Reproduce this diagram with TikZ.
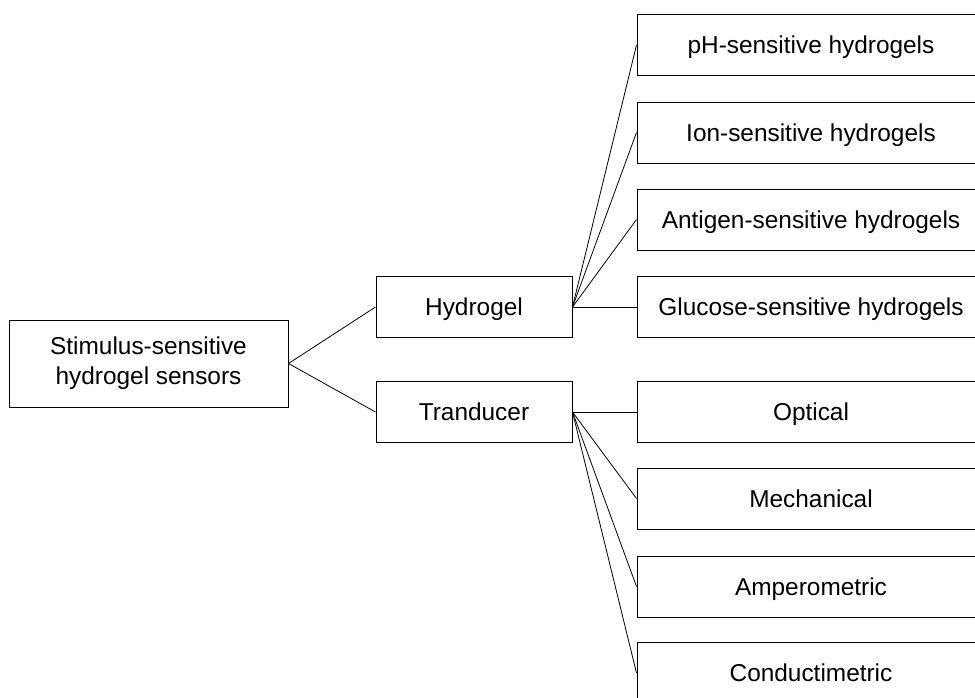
\documentclass[tikz,border=0pt]{standalone}
\usepackage{fontspec}
\setmainfont{Liberation Sans}
\usepackage{tikz}

\begin{document}
\begin{tikzpicture}[x=1pt,y=-1pt,
        box/.style={draw,rectangle,inner sep=0pt,line width=1pt,
            font=\fontsize{24.4}{30}\selectfont,align=center},
        midbox/.style={box,minimum width=196pt,minimum height=61pt,
            text height=17.5pt,text depth=0pt},
        leafbox/.style={box,minimum width=348pt,minimum height=61pt,
            text height=17.5pt,text depth=0pt},
        link/.style={line width=0.8pt}]
        \useasboundingbox (0,0) rectangle (975,697);
        \clip (0,0) rectangle (975,697);

        \node[box,minimum width=279pt,minimum height=87pt] (sensor) at (148.5,363.5)
            {Stimulus-sensitive\\hydrogel sensors};

        \node[midbox] (hydrogel) at (474,307){Hydrogel};
        \node[midbox] (tranducer) at (474,412){Tranducer};

        \node[leafbox] (ph) at (811,45){pH-sensitive hydrogels};
        \node[leafbox] (ion) at (811,132.5){Ion-sensitive hydrogels};
        \node[leafbox] (antigen) at (811,219.5){Antigen-sensitive hydrogels};
        \node[leafbox] (glucose) at (811,307){Glucose-sensitive hydrogels};

        \node[leafbox] (optical) at (811,412){Optical};
        \node[leafbox] (mechanical) at (811,498.5){Mechanical};
        \node[leafbox] (ampero) at (811,586.5){Amperometric};
        \node[leafbox] (conduct) at (811,673){Conductimetric};

        \draw[link] (sensor.east) -- (hydrogel.west);
        \draw[link] (sensor.east) -- (tranducer.west);

        \draw[link] (hydrogel.east) -- (ph.west);
        \draw[link] (hydrogel.east) -- (ion.west);
        \draw[link] (hydrogel.east) -- (antigen.west);
        \draw[link] (hydrogel.east) -- (glucose.west);

        \draw[link] (tranducer.east) -- (optical.west);
        \draw[link] (tranducer.east) -- (mechanical.west);
        \draw[link] (tranducer.east) -- (ampero.west);
        \draw[link] (tranducer.east) -- (conduct.west);
    \end{tikzpicture}
\end{document}
